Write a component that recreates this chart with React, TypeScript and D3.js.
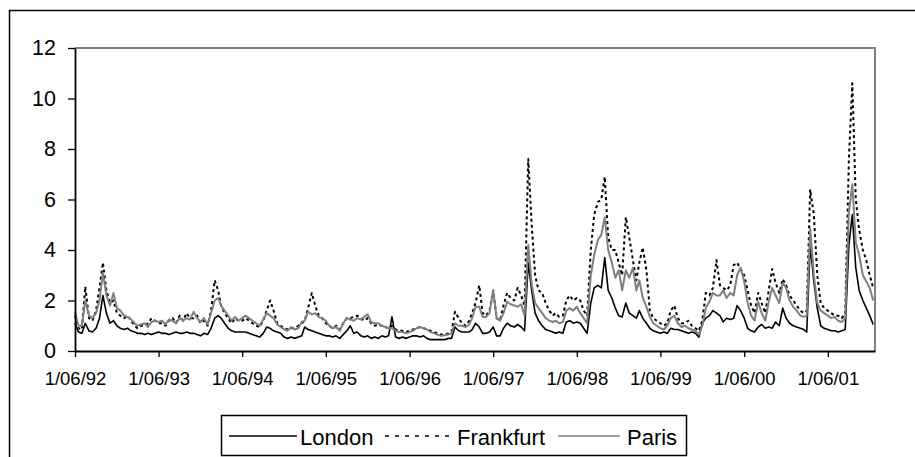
import { useRef, useEffect } from 'react'
import * as d3 from 'd3'

// half-monthly readings from 1 June 1992 (1st and 16th of each month)
const london = [
  1.1, 0.75, 0.7, 1.1, 0.8, 0.75, 0.9, 1.3, 2.2, 1.5,
  1.1, 1.2, 1.0, 0.9, 0.85, 0.9, 0.8, 0.75, 0.7, 0.7,
  0.65, 0.7, 0.65, 0.7, 0.75, 0.7, 0.7, 0.65, 0.7, 0.75,
  0.7, 0.7, 0.75, 0.7, 0.7, 0.65, 0.6, 0.7, 0.65, 0.9,
  1.3, 1.4, 1.3, 1.1, 0.9, 0.8, 0.75, 0.75, 0.75, 0.75,
  0.7, 0.65, 0.6, 0.55, 0.7, 0.95, 0.9, 0.8, 0.75, 0.7,
  0.55, 0.5, 0.55, 0.5, 0.55, 0.6, 0.95, 0.85, 0.8, 0.75,
  0.7, 0.65, 0.6, 0.6, 0.55, 0.6, 0.5, 0.65, 0.8, 1.0,
  0.7, 0.75, 0.6, 0.55, 0.6, 0.5, 0.55, 0.5, 0.6, 0.55,
  0.6, 1.35, 0.55, 0.5, 0.55, 0.5, 0.55, 0.6, 0.6, 0.55,
  0.6, 0.5, 0.45, 0.45, 0.45, 0.45, 0.45, 0.5, 0.5, 0.95,
  0.8, 0.75, 0.75, 0.75, 0.85, 1.1, 0.95, 0.7, 0.7, 0.75,
  0.95, 0.6, 0.6, 0.9, 1.1, 1.0, 0.95, 1.05, 0.95, 0.8,
  3.5, 2.4, 1.5, 1.2, 1.0, 0.85, 0.8, 0.75, 0.7, 0.75,
  0.7, 1.15, 1.2, 1.1, 1.15, 1.1, 0.9, 0.7, 1.9, 2.5,
  2.6, 2.5, 3.7, 2.4, 2.1, 1.7, 1.4, 1.35, 1.9, 1.5,
  1.4, 1.3, 1.6, 1.3, 1.1, 0.9, 0.8, 0.75, 0.7, 0.75,
  0.7, 0.9, 0.85, 0.85, 0.8, 0.75, 0.7, 0.75, 0.7, 0.55,
  1.1, 1.3, 1.4, 1.6, 1.5, 1.4, 1.15, 1.3, 1.25, 1.3,
  1.8, 1.6, 1.3, 0.9, 0.8, 0.75, 0.95, 1.05, 0.9, 0.95,
  0.9, 1.15, 1.0, 1.7, 1.3, 1.1, 1.0, 0.95, 0.9, 0.85,
  0.75, 4.2, 2.75, 1.7, 1.0, 0.9, 0.85, 0.8, 0.8, 0.75,
  0.8, 0.85, 4.2, 5.4, 3.3, 2.4, 2.0, 1.7, 1.4, 1.05,
]

const frankfurt = [
  1.4, 0.9, 0.85, 2.55, 1.3, 1.2, 1.6, 2.5, 3.5, 2.4,
  1.9, 2.0, 1.5, 1.4, 1.3, 1.4, 1.2, 1.0, 0.9, 1.0,
  1.0, 1.1, 1.3, 1.2, 1.1, 1.1, 1.0, 1.2, 1.3, 1.1,
  1.4, 1.2, 1.5, 1.3, 1.3, 1.4, 1.1, 1.2, 1.0, 1.6,
  2.8, 2.4, 1.8, 1.5, 1.3, 1.1, 1.3, 1.2, 1.2, 1.3,
  1.2, 1.1, 1.0, 0.95, 1.2, 1.6, 2.0, 1.6, 1.1, 1.0,
  0.9, 0.85, 0.9, 0.9, 1.0, 1.1, 1.2, 1.7, 2.3, 1.8,
  1.4, 1.3, 1.1, 1.0, 0.9, 1.0, 0.85, 1.1, 1.3, 1.3,
  1.35, 1.4, 1.3, 1.2, 1.3, 1.1, 1.0, 1.05, 1.0, 0.95,
  0.9, 1.0, 0.85, 0.8, 0.8, 0.75, 0.8, 0.85, 0.9, 0.95,
  0.9, 0.85, 0.8, 0.75, 0.7, 0.65, 0.65, 0.7, 0.75, 1.55,
  1.3, 1.1, 1.0, 1.2, 1.5, 1.9, 2.6, 1.5, 1.4, 1.6,
  2.4, 1.3, 1.2, 1.8, 2.3, 2.1, 2.0, 2.5, 2.2, 1.8,
  7.6, 5.0, 3.0, 2.4, 2.3, 1.9, 1.6, 1.4, 1.5, 1.35,
  1.4, 2.0, 2.2, 2.0, 2.1, 2.0, 1.6, 1.4, 4.0, 5.4,
  5.9, 6.0, 6.9, 4.5, 4.0, 4.0, 3.5, 3.0, 5.3, 4.5,
  3.6, 2.8, 3.5, 4.1, 3.2, 1.6, 1.3, 1.2, 1.1, 1.0,
  1.1, 1.6, 1.8, 1.3, 1.1, 1.1, 1.2, 1.0, 0.9, 0.8,
  1.2, 2.3, 2.2, 2.5, 3.6, 2.6, 2.5, 2.4, 2.6, 3.4,
  3.5, 3.25, 3.0, 2.4, 1.8, 1.5, 2.3, 1.9, 1.5, 2.4,
  3.25, 2.7, 2.3, 2.85, 2.6, 2.2, 2.0, 1.8, 1.6, 1.5,
  1.6, 6.4, 5.4, 3.0, 1.9, 1.7, 1.6, 1.5, 1.4, 1.4,
  1.3, 1.5, 7.6, 10.6, 6.0, 4.8, 4.0, 3.6, 3.0, 2.5,
]

const paris = [
  1.55, 1.0, 1.0, 2.0, 1.4, 1.3, 1.5, 2.0, 3.1, 2.2,
  1.8, 2.3, 1.7, 1.6, 1.4, 1.35, 1.25, 1.1, 1.0, 1.05,
  1.1, 0.95, 1.15, 1.2, 1.15, 1.2, 1.05, 1.25, 1.2, 1.1,
  1.3, 1.2, 1.3, 1.25, 1.55, 1.3, 1.15, 1.3, 1.05, 1.5,
  2.0, 2.1, 1.8, 1.6, 1.4, 1.2, 1.35, 1.2, 1.3, 1.4,
  1.3, 1.2, 1.1, 1.0, 1.25, 1.5, 1.4, 1.3, 1.05, 0.95,
  0.85, 0.8, 0.95, 0.85, 0.9, 1.15, 1.2, 1.55, 1.45, 1.5,
  1.35, 1.3, 1.2, 1.0, 0.9, 0.95, 0.8, 1.1, 1.3, 1.25,
  1.2, 1.3, 1.25, 1.35, 1.45, 1.15, 1.1, 1.1, 1.0, 0.95,
  0.9, 0.9, 0.8, 0.75, 0.75, 0.7, 0.75, 0.8, 0.9, 0.95,
  0.9, 0.85, 0.75, 0.7, 0.65, 0.6, 0.62, 0.65, 0.7, 1.1,
  1.0, 1.0, 0.95, 1.05, 1.3, 1.75, 1.75, 1.35, 1.35, 1.5,
  2.4, 1.3, 1.2, 1.5, 1.95, 1.85, 1.8, 1.75, 1.85, 1.4,
  4.2, 2.65, 1.9, 1.7, 1.5, 1.3, 1.2, 1.15, 1.2, 1.1,
  1.15, 1.6, 1.7, 1.6, 1.75, 1.5, 1.3, 1.1, 3.0, 3.8,
  4.4, 4.6, 5.3, 4.0, 3.5, 2.9, 3.2, 2.4, 3.2, 2.9,
  3.3, 2.4, 2.8, 2.1, 1.75, 1.35, 1.1, 1.0, 0.9, 0.85,
  1.0, 1.3, 1.4, 1.1, 0.95, 1.0, 0.9, 0.85, 0.8, 0.65,
  1.0, 1.7, 1.95, 2.3, 2.2, 2.2, 2.4, 2.1, 2.3, 2.2,
  3.0, 3.3, 2.75, 1.9, 1.4, 1.2, 1.95, 1.5, 1.2, 1.95,
  2.5, 2.2, 1.9, 2.7, 2.5, 2.0, 1.75, 1.6, 1.4, 1.35,
  1.4, 4.85, 3.0, 1.9, 1.6, 1.5, 1.4, 1.3, 1.35, 1.2,
  1.15, 1.3, 5.5, 6.6, 4.3, 3.8, 3.0, 2.75, 2.5, 2.0,
]

const seriesNames = ['London', 'Frankfurt', 'Paris']
const tickLabels = ['1/06/92', '1/06/93', '1/06/94', '1/06/95', '1/06/96', '1/06/97', '1/06/98', '1/06/99', '1/06/00', '1/06/01']
const yTicks = [0, 2, 4, 6, 8, 10, 12]

const dates = london.map((_, i) => new Date(1992, 5 + Math.floor(i / 2), i % 2 ? 16 : 1))
const tickDates = tickLabels.map((_, i) => new Date(1992 + i, 5, 1))

const FONT = '"Liberation Sans", Arial, sans-serif'

const App = () => {
  const ref = useRef<SVGSVGElement>(null)

  useEffect(() => {
    const svg = d3.select(ref.current)
    svg.selectAll('*').remove()

    const left = 75
    const right = 875
    const top = 48
    const bottom = 351

    const x = d3.scaleTime()
      .domain([new Date(1992, 5, 1), new Date(2001, 11, 24)])
      .range([left, right])
    const y = d3.scaleLinear().domain([0, 12]).range([bottom, top])

    // outer chart frame (runs off the right and bottom of the page)
    svg.append('rect')
      .attr('x', 9.5).attr('y', 10.5)
      .attr('width', 1000).attr('height', 1000)
      .attr('fill', 'none').attr('stroke', '#000').attr('stroke-width', 1.5)

    // plot area border, top and right
    svg.append('path')
      .attr('d', `M${left},${top}H${right}V${bottom}`)
      .attr('fill', 'none').attr('stroke', '#808080').attr('stroke-width', 2)

    const series = [
      { name: seriesNames[0], values: london, color: '#000', width: 1.6, dash: null },
      { name: seriesNames[1], values: frankfurt, color: '#000', width: 2, dash: '3 3' },
      { name: seriesNames[2], values: paris, color: '#808080', width: 2, dash: null },
    ]

    const line = d3.line<number>()
      .x((d, i) => x(dates[i]))
      .y((d) => y(d))

    series.forEach((s) => {
      svg.append('path')
        .datum(s.values)
        .attr('d', line)
        .attr('fill', 'none')
        .attr('stroke', s.color)
        .attr('stroke-width', s.width)
        .attr('stroke-dasharray', s.dash)
        .attr('stroke-linejoin', 'round')
    })

    const yAxis = svg.append('g')
      .attr('transform', `translate(${left},0)`)
      .call(d3.axisLeft(y).tickValues(yTicks).tickSize(7).tickSizeOuter(0).tickPadding(12))
    yAxis.selectAll('text').attr('font-size', 21.5).attr('font-family', FONT).attr('fill', '#000')

    const xAxis = svg.append('g')
      .attr('transform', `translate(0,${bottom})`)
      .call(d3.axisBottom(x).tickValues(tickDates).tickSize(6).tickSizeOuter(0).tickPadding(15)
        .tickFormat((d, i) => tickLabels[i]))
    xAxis.selectAll('text').attr('font-size', 18.5).attr('font-family', FONT).attr('fill', '#000')

    svg.selectAll('.domain').attr('stroke', '#000').attr('stroke-width', 1.8)
    svg.selectAll('.tick line').attr('stroke', '#000').attr('stroke-width', 1.3)

    // legend
    const legend = svg.append('g')
    legend.append('rect')
      .attr('x', 221.5).attr('y', 415.5).attr('width', 465).attr('height', 40)
      .attr('fill', '#fff').attr('stroke', '#000').attr('stroke-width', 1.5)

    const legendItems = [
      { x1: 229, x2: 297, tx: 300 },
      { x1: 385, x2: 452, tx: 457 },
      { x1: 558, x2: 620, tx: 627 },
    ]
    legendItems.forEach((p, i) => {
      legend.append('line')
        .attr('x1', p.x1).attr('x2', p.x2).attr('y1', 436).attr('y2', 436)
        .attr('stroke', series[i].color).attr('stroke-width', 1.6)
        .attr('stroke-dasharray', i === 1 ? '4 6' : null)
      legend.append('text')
        .attr('x', p.tx).attr('y', 445)
        .attr('font-size', 22).attr('font-family', FONT)
        .text(series[i].name)
    })
  }, [])

  return (
    <svg ref={ref} width={915} height={457}
      style={{ position: 'absolute', left: 0, top: 0, background: '#fff' }} />
  )
}

export default App
